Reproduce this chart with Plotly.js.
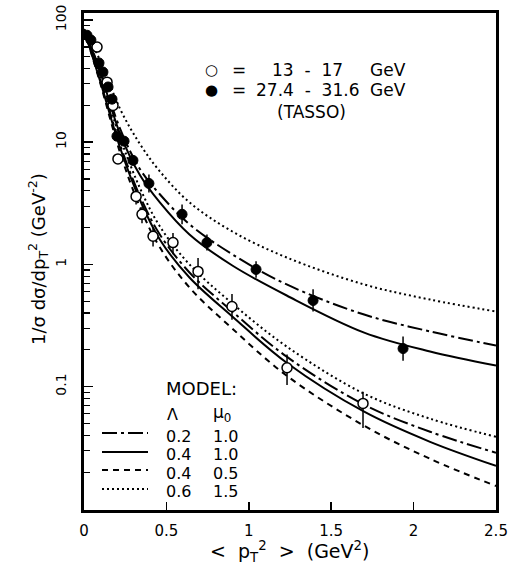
<!DOCTYPE html>
<html>
<head>
<meta charset="utf-8">
<script src="https://cdn.plot.ly/plotly-3.0.1.min.js"></script>
<style>html,body{margin:0;padding:0;background:#fff;}#chart{width:517px;height:565px;}</style>
</head>
<body>
<div id="chart"></div>
<script>
// ---- data ----
const curveX = [0, 0.1, 0.22, 0.34, 0.46, 0.64, 0.9, 1.23, 1.7, 2.1, 2.5];
// high energy (27.4-31.6 GeV) model curves
const hiDot     = [84, 46.1, 18.6, 9.63, 5.78, 3.22, 1.86, 1.14, 0.686, 0.516, 0.412];
const hiDashDot = [84, 38.2, 12.8, 6.01, 3.75, 2.13, 1.21, 0.686, 0.389, 0.283, 0.217];
const hiSolid   = [84, 36.8, 11.6, 5.37, 3.22, 1.76, 0.98, 0.557, 0.277, 0.194, 0.149];
// low energy (13-17 GeV) model curves
const loDot     = [84, 34.1, 10.8, 4.20, 2.05, 1.00, 0.479, 0.213, 0.0876, 0.0547, 0.0389];
const loDashDot = [84, 32.2, 9.45, 3.61, 1.76, 0.860, 0.412, 0.176, 0.0712, 0.0428, 0.0288];
const loSolid   = [84, 31.0, 8.93, 3.35, 1.60, 0.782, 0.375, 0.157, 0.0624, 0.0354, 0.0225];
const loDash    = [84, 29.9, 8.12, 2.93, 1.38, 0.648, 0.299, 0.123, 0.0479, 0.0257, 0.0154];

// TASSO data, 27.4 - 31.6 GeV (filled)
const hiX    = [0.018, 0.042, 0.091, 0.115, 0.146, 0.170, 0.20, 0.243, 0.297, 0.394, 0.595, 0.746, 1.044, 1.39, 1.936];
const hiY    = [75, 68.5, 44.5, 37.5, 28.3, 22.5, 11.2, 10.2, 7.1, 4.6, 2.57, 1.51, 0.91, 0.507, 0.205];
const hiErrP = [0, 0, 0, 0, 0, 0, 0, 0, 0, 0.85, 0.53, 0.25, 0.15, 0.12, 0.052];
const hiErrM = [0, 0, 0, 0, 0, 0, 0, 0, 0, 0.72, 0.44, 0.21, 0.13, 0.095, 0.042];

// TASSO data, 13 - 17 GeV (open)
const loX    = [0.079, 0.14, 0.176, 0.206, 0.316, 0.352, 0.419, 0.54, 0.692, 0.898, 1.232, 1.693];
const loY    = [60, 31, 20, 7.3, 3.6, 2.57, 1.70, 1.51, 0.877, 0.453, 0.143, 0.073];
const loErrP = [0, 0, 0, 0, 0.5, 0.4, 0.3, 0.3, 0.25, 0.12, 0.04, 0.018];
const loErrM = [0, 0, 0, 0, 0.5, 0.4, 0.3, 0.3, 0.25, 0.1, 0.04, 0.027];

// tick labels
const xTickVals = [0, 0.5, 1, 1.5, 2, 2.5];
const xTickText = ['0', '0.5', '1', '1.5', '2', '2.5'];
const yTickVals = [0.1, 1, 10, 100];
const yTickText = ['0.1', '1', '10', '100'];

// model legend
const modelLambda = ['0.2', '0.4', '0.4', '0.6'];
const modelMu0    = ['1.0', '1.0', '0.5', '1.5'];

// ---- styling ----
const FONT = 'DejaVu Sans, Arial, sans-serif';
const DASHDOT = '15px,4px,3px,4px';
const DASH = '6px,5px';
const DOT = '2px,3px';
const LW = 2;

function curve(y, dash) {
  return {x: curveX, y: y, type: 'scatter', mode: 'lines', line: {color: '#000', width: LW, dash: dash, shape: 'spline', smoothing: 1}, hoverinfo: 'skip', showlegend: false};
}

const traces = [
  curve(hiDot, DOT), curve(hiDashDot, DASHDOT), curve(hiSolid, 'solid'),
  curve(loDot, DOT), curve(loDashDot, DASHDOT), curve(loSolid, 'solid'), curve(loDash, DASH),
  {x: loX, y: loY, type: 'scatter', mode: 'markers', showlegend: false,
   marker: {symbol: 'circle', size: 10, color: '#fff', line: {color: '#000', width: 1.5}},
   error_y: {type: 'data', symmetric: false, array: loErrP, arrayminus: loErrM, color: '#000', thickness: 1.5, width: 0}},
  {x: hiX, y: hiY, type: 'scatter', mode: 'markers', showlegend: false,
   marker: {symbol: 'circle', size: 10, color: '#000', line: {color: '#000', width: 1}},
   error_y: {type: 'data', symmetric: false, array: hiErrP, arrayminus: hiErrM, color: '#000', thickness: 1.5, width: 0}}
];

// minor ticks on the log axis
const minorVals = [];
[0.01, 0.1, 1, 10].forEach(d => { for (let k = 2; k <= 9; k++) minorVals.push(d * k); });

// plot area in pixels
const L = 84, R = 21, T = 13, B = 55, W = 517, H = 565;
const PW = W - L - R, PH = H - T - B;
const px = x => (x - L) / PW;
const py = y => 1 - (y - T) / PH;

const ann = [];
function txt(text, x, y, xanchor, size, angle) {
  ann.push({text: text, xref: 'paper', yref: 'paper', x: px(x), y: py(y), xanchor: xanchor || 'left', yanchor: 'middle', showarrow: false, textangle: angle || 0, font: {family: FONT, size: size || 17, color: '#000'}});
}
// axis titles
txt('&lt;  p<sub>T</sub><sup>2</sup>  &gt;  (GeV<sup>2</sup>)', 289, 551, 'center', 19);
txt('1/σ dσ/dp<sub>T</sub><sup>2</sup> (GeV<sup>-2</sup>)', 38, 259, 'center', 18, -90);
// data legend
txt('○', 211, 70, 'center', 15);
txt('=', 239, 70, 'center');
txt('13  -  17', 307, 70, 'center');
txt('GeV', 368, 70, 'left');
txt('●', 211, 90, 'center', 15);
txt('=', 239, 90, 'center');
txt('27.4  -  31.6', 307, 90, 'center');
txt('GeV', 368, 90, 'left');
txt('(TASSO)', 311, 112, 'center');
// model legend
txt('MODEL:', 164, 388, 'left', 18);
txt('Λ', 165, 414, 'left', 16);
txt('μ<sub>0</sub>', 211, 413, 'left', 17);
const rowY = [436, 454, 473, 491];
const lineY = [433, 452, 470, 489];
const dashes = [DASHDOT, 'solid', DASH, DOT];
const shapes = [];
for (let i = 0; i < 4; i++) {
  txt(modelLambda[i], 164, rowY[i], 'left', 16);
  txt(modelMu0[i], 211, rowY[i], 'left', 16);
  shapes.push({type: 'line', xref: 'paper', yref: 'paper', x0: px(102), x1: px(148), y0: py(lineY[i]), y1: py(lineY[i]), line: {color: '#000', width: LW, dash: dashes[i]}});
}

const layout = {
  width: W, height: H,
  margin: {l: L, r: R, t: T, b: B, pad: 0},
  paper_bgcolor: '#fff', plot_bgcolor: '#fff',
  font: {family: FONT, color: '#000'},
  showlegend: false,
  xaxis: {
    range: [0, 2.5], tickmode: 'array', tickvals: xTickVals, ticktext: xTickText,
    ticks: 'inside', ticklen: 8, tickwidth: 1.5, tickcolor: '#000',
    showline: true, linewidth: 3, linecolor: '#000', mirror: true,
    showgrid: false, zeroline: false, tickfont: {family: FONT, size: 15},
    ticklabelstandoff: 5
  },
  yaxis: {
    type: 'log', range: [Math.log10(0.0098), Math.log10(114)],
    tickmode: 'array', tickvals: yTickVals, ticktext: yTickText, tickangle: -90,
    ticks: 'inside', ticklen: 9, tickwidth: 1.5, tickcolor: '#000',
    minor: {tickmode: 'array', tickvals: minorVals, ticks: 'inside', ticklen: 6, tickwidth: 1.2, tickcolor: '#000', showgrid: false},
    showline: true, linewidth: 3, linecolor: '#000', mirror: true,
    showgrid: false, zeroline: false, tickfont: {family: FONT, size: 14},
    ticklabelstandoff: 9
  },
  annotations: ann,
  shapes: shapes
};

Plotly.newPlot('chart', traces, layout, {staticPlot: true, displayModeBar: false});
</script>
</body>
</html>
